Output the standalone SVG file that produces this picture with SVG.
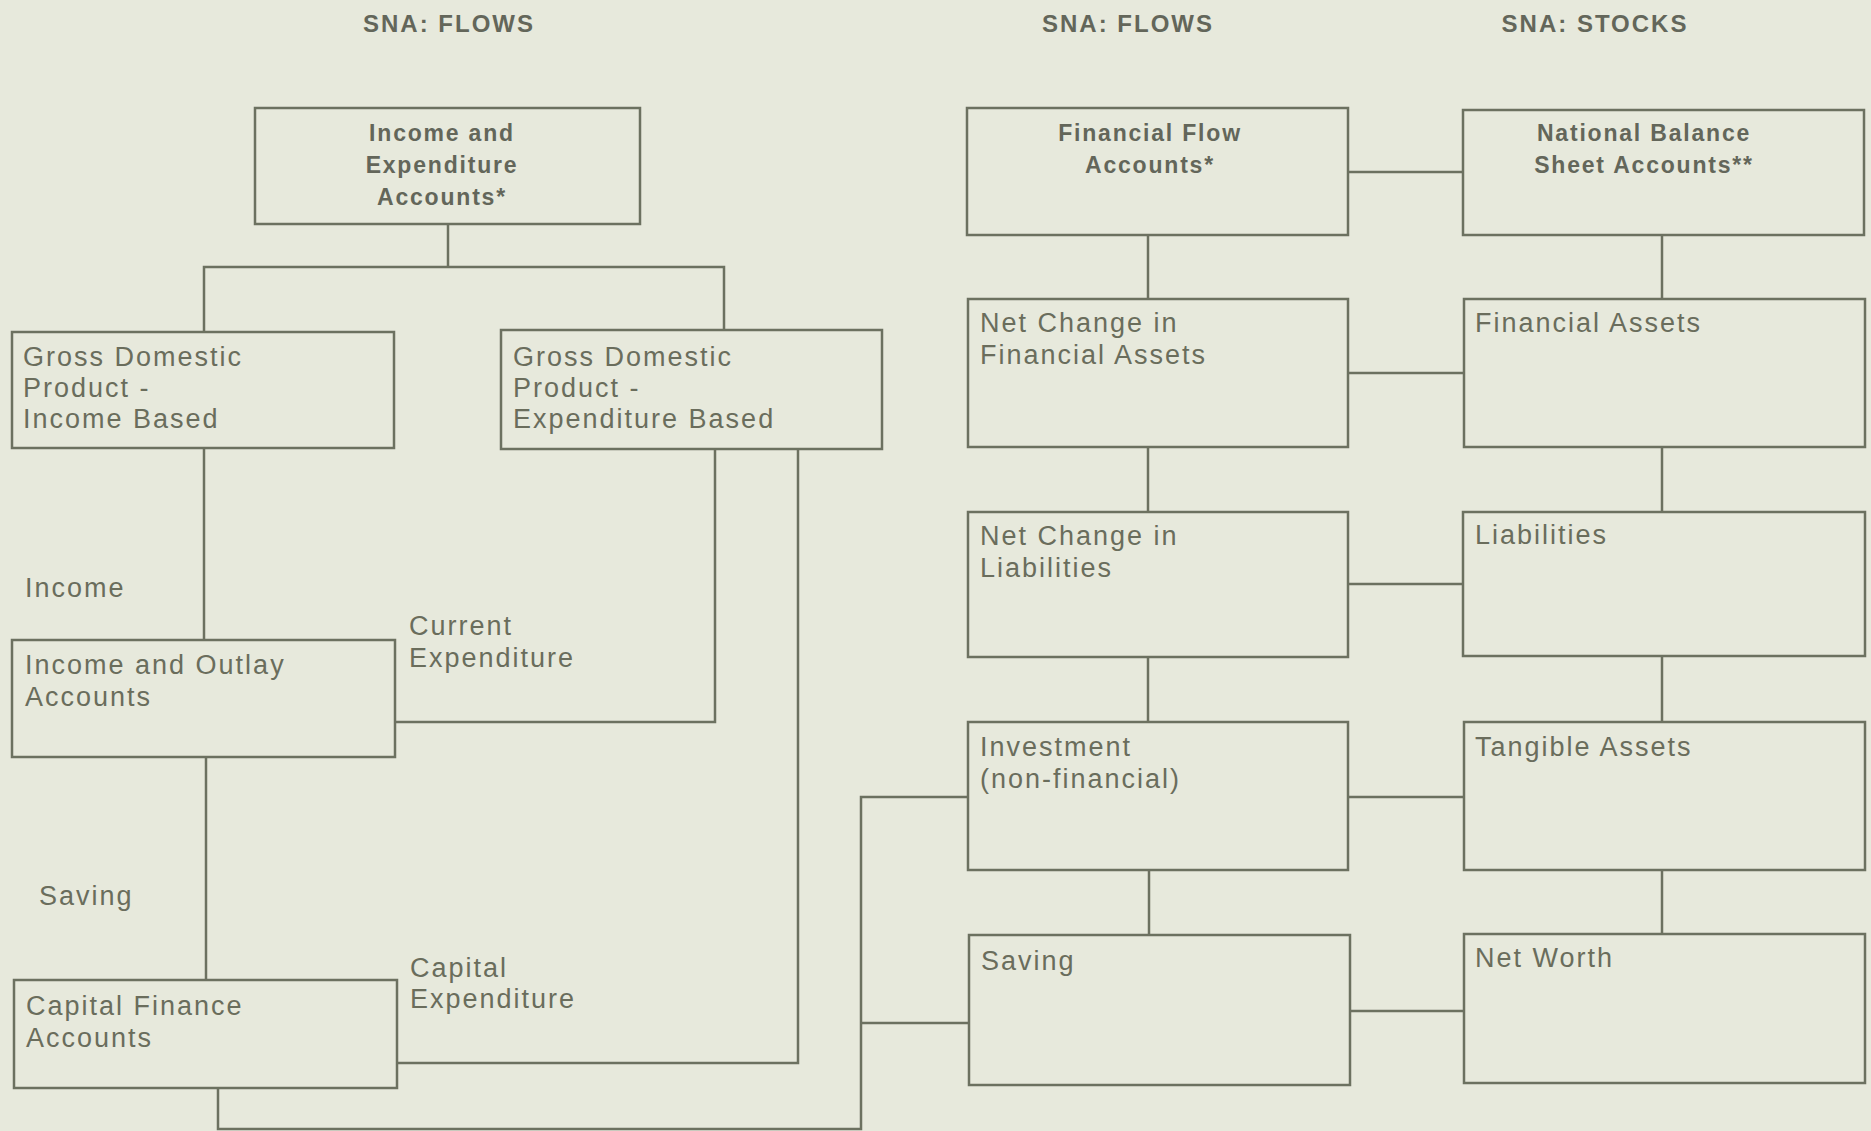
<svg xmlns="http://www.w3.org/2000/svg" width="1871" height="1131" viewBox="0 0 1871 1131">
<style>
.bg{fill:#e7e9dc}
.box{fill:none;stroke:#6c7160;stroke-width:2.5}
.line{fill:none;stroke:#6c7160;stroke-width:2.5}
.t{font-family:"Liberation Sans",Arial,sans-serif;font-size:27px;letter-spacing:2px;fill:#6a6d5c}
.b{font-family:"Liberation Sans",Arial,sans-serif;font-size:23px;font-weight:bold;letter-spacing:1.8px;fill:#63665a;text-anchor:middle}
.h{font-family:"Liberation Sans",Arial,sans-serif;font-size:24px;font-weight:bold;letter-spacing:2px;fill:#63665a;text-anchor:middle}
</style>
<rect class="bg" x="0" y="0" width="1871" height="1131"/>
<g id="titles">
<text class="h" x="449" y="32">SNA: FLOWS</text>
<text class="h" x="1128" y="32">SNA: FLOWS</text>
<text class="h" x="1595" y="32">SNA: STOCKS</text>
</g>
<g id="connectors">
<polyline class="line" points="448,224 448,267"/>
<polyline class="line" points="204,332 204,267 724,267 724,330"/>
<polyline class="line" points="204,448 204,640"/>
<polyline class="line" points="715,449 715,722 395,722"/>
<polyline class="line" points="798,449 798,1063 397,1063"/>
<polyline class="line" points="206,757 206,980"/>
<polyline class="line" points="218,1088 218,1129 861,1129 861,797 968,797"/>
<polyline class="line" points="861,1023 969,1023"/>
<polyline class="line" points="1348,172 1463,172"/>
<polyline class="line" points="1148,235 1148,299"/>
<polyline class="line" points="1662,235 1662,299"/>
<polyline class="line" points="1348,373 1464,373"/>
<polyline class="line" points="1148,447 1148,512"/>
<polyline class="line" points="1662,447 1662,512"/>
<polyline class="line" points="1348,584 1463,584"/>
<polyline class="line" points="1148,657 1148,722"/>
<polyline class="line" points="1662,656 1662,722"/>
<polyline class="line" points="1348,797 1464,797"/>
<polyline class="line" points="1149,870 1149,935"/>
<polyline class="line" points="1662,870 1662,934"/>
<polyline class="line" points="1350,1011 1464,1011"/>
</g>
<g id="labels">
<text class="t" x="25" y="597">Income</text>
<text class="t" x="409" y="635">Current</text>
<text class="t" x="409" y="667">Expenditure</text>
<text class="t" x="39" y="905">Saving</text>
<text class="t" x="410" y="977">Capital</text>
<text class="t" x="410" y="1008">Expenditure</text>
</g>
<g id="income-expenditure-accounts">
<rect class="box" x="255" y="108" width="385" height="116"/>
<text class="b" x="442" y="141">Income and</text>
<text class="b" x="442" y="173">Expenditure</text>
<text class="b" x="442" y="205">Accounts*</text>
</g>
<g id="gdp-income">
<rect class="box" x="12" y="332" width="382" height="116"/>
<text class="t" x="23" y="366">Gross Domestic</text>
<text class="t" x="23" y="397">Product -</text>
<text class="t" x="23" y="428">Income Based</text>
</g>
<g id="gdp-expenditure">
<rect class="box" x="501" y="330" width="381" height="119"/>
<text class="t" x="513" y="366">Gross Domestic</text>
<text class="t" x="513" y="397">Product -</text>
<text class="t" x="513" y="428">Expenditure Based</text>
</g>
<g id="income-outlay">
<rect class="box" x="12" y="640" width="383" height="117"/>
<text class="t" x="25" y="674">Income and Outlay</text>
<text class="t" x="25" y="706">Accounts</text>
</g>
<g id="capital-finance">
<rect class="box" x="14" y="980" width="383" height="108"/>
<text class="t" x="26" y="1015">Capital Finance</text>
<text class="t" x="26" y="1047">Accounts</text>
</g>
<g id="financial-flow">
<rect class="box" x="967" y="108" width="381" height="127"/>
<text class="b" x="1150" y="141">Financial Flow</text>
<text class="b" x="1150" y="173">Accounts*</text>
</g>
<g id="national-balance-sheet">
<rect class="box" x="1463" y="110" width="401" height="125"/>
<text class="b" x="1644" y="141">National Balance</text>
<text class="b" x="1644" y="173">Sheet Accounts**</text>
</g>
<g id="net-change-financial-assets">
<rect class="box" x="968" y="299" width="380" height="148"/>
<text class="t" x="980" y="332">Net Change in</text>
<text class="t" x="980" y="364">Financial Assets</text>
</g>
<g id="financial-assets">
<rect class="box" x="1464" y="299" width="401" height="148"/>
<text class="t" x="1475" y="332">Financial Assets</text>
</g>
<g id="net-change-liabilities">
<rect class="box" x="968" y="512" width="380" height="145"/>
<text class="t" x="980" y="545">Net Change in</text>
<text class="t" x="980" y="577">Liabilities</text>
</g>
<g id="liabilities">
<rect class="box" x="1463" y="512" width="402" height="144"/>
<text class="t" x="1475" y="544">Liabilities</text>
</g>
<g id="investment">
<rect class="box" x="968" y="722" width="380" height="148"/>
<text class="t" x="980" y="756">Investment</text>
<text class="t" x="980" y="788">(non-financial)</text>
</g>
<g id="tangible-assets">
<rect class="box" x="1464" y="722" width="401" height="148"/>
<text class="t" x="1475" y="756">Tangible Assets</text>
</g>
<g id="saving">
<rect class="box" x="969" y="935" width="381" height="150"/>
<text class="t" x="981" y="970">Saving</text>
</g>
<g id="net-worth">
<rect class="box" x="1464" y="934" width="401" height="149"/>
<text class="t" x="1475" y="967">Net Worth</text>
</g>
</svg>
